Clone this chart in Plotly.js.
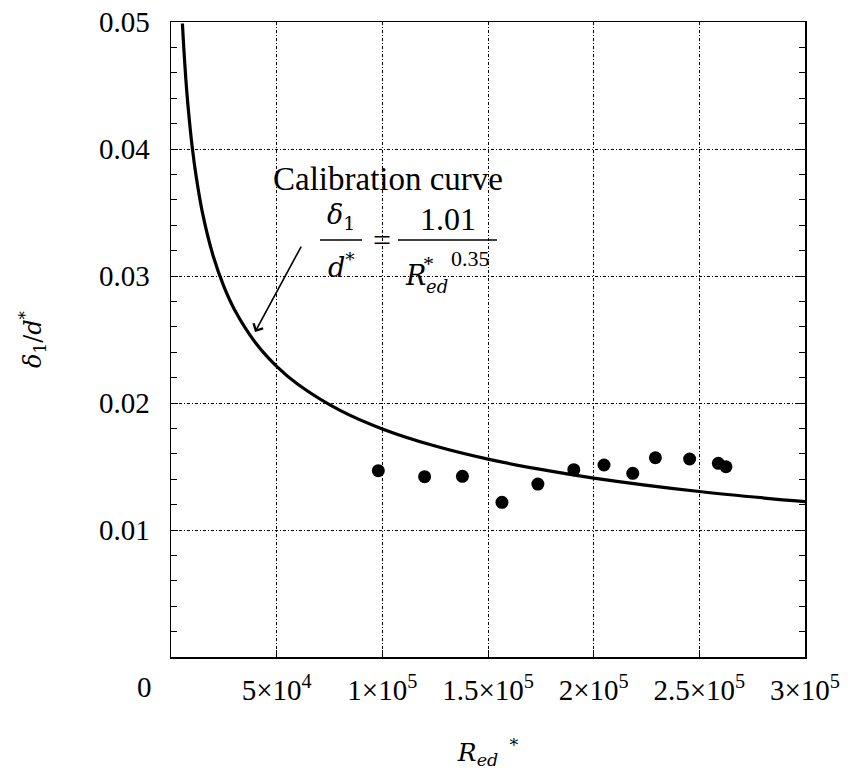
<!DOCTYPE html>
<html>
<head>
<meta charset="utf-8">
<script src="https://cdn.plot.ly/plotly-3.0.1.min.js"></script>
<style>
html,body{margin:0;padding:0;background:#fff;}
#chart{width:850px;height:781px;}
</style>
</head>
<body>
<div id="chart"></div>
<script>
// Measured data points
var measX = [98100, 120000, 137900, 156600, 173600, 190600, 204900, 218500, 229200, 245400, 259000, 262600];
var measY = [0.01467, 0.01420, 0.01423, 0.01218, 0.01362, 0.01475, 0.01512, 0.01446, 0.01569, 0.01559, 0.01525, 0.01498];

// Calibration curve points
var curveX = [5400, 6000, 7000, 8000, 10000, 12000, 15000, 20000, 25000, 30000, 40000, 50000, 60000, 80000, 100000, 125000, 150000, 175000, 200000, 250000, 300000];
var curveY = [0.04988, 0.04809, 0.04556, 0.04348, 0.04021, 0.03773, 0.03489, 0.03155, 0.02918, 0.02737, 0.02475, 0.02289, 0.02148, 0.01942, 0.01796, 0.01661, 0.01558, 0.01477, 0.01409, 0.01303, 0.01223];

// Tick labels
var xTickVals = [50000, 100000, 150000, 200000, 250000, 300000];
var xTickText = ['5\u00d710<sup>4</sup>', '1\u00d710<sup>5</sup>', '1.5\u00d710<sup>5</sup>', '2\u00d710<sup>5</sup>', '2.5\u00d710<sup>5</sup>', '3\u00d710<sup>5</sup>'];
var yTickVals = [0.01, 0.02, 0.03, 0.04, 0.05];
var yTickText = ['0.01', '0.02', '0.03', '0.04', '0.05'];

var fam = 'Liberation Serif';   // upright text
var famI = 'DejaVu Serif';      // italic (math) text

var traces = [
  {
    x: curveX, y: curveY, type: 'scatter', mode: 'lines',
    line: {color: '#000', width: 3.2, shape: 'spline'},
    name: 'Calibration curve', showlegend: false, hoverinfo: 'skip'
  },
  {
    x: measX, y: measY, type: 'scatter', mode: 'markers',
    marker: {color: '#000', size: 13, symbol: 'circle'},
    name: 'Measured', showlegend: false
  }
];

var gridDash = '3px,2px,1px,2px';

var layout = {
  width: 850, height: 781,
  margin: {l: 171, r: 45, t: 22, b: 124},
  paper_bgcolor: '#fff', plot_bgcolor: '#fff',
  font: {color: '#000'},
  xaxis: {
    range: [0, 300000], autorange: false,
    tickmode: 'array', tickvals: xTickVals, ticktext: xTickText,
    ticks: 'inside', ticklen: 7, tickcolor: '#000', tickwidth: 1,
    showline: true, linecolor: '#000', linewidth: 1.5, mirror: true,
    showgrid: true, gridcolor: '#000', gridwidth: 1, griddash: gridDash,
    zeroline: false,
    tickfont: {family: fam, size: 29, color: '#000'},
    ticklabelstandoff: 7,
    title: {text: '<i>R</i><sub><i>ed</i></sub><sup>  *</sup>', font: {family: famI, size: 25, color: '#000'}, standoff: 38}
  },
  yaxis: {
    range: [0, 0.05], autorange: false,
    tickmode: 'array', tickvals: yTickVals, ticktext: yTickText,
    ticks: 'inside', ticklen: 7, tickcolor: '#000', tickwidth: 1,
    minor: {dtick: 0.002, tick0: 0, ticks: 'inside', ticklen: 6, tickcolor: '#000', showgrid: false},
    showline: true, linecolor: '#000', linewidth: 1.5, mirror: 'ticks',
    showgrid: true, gridcolor: '#000', gridwidth: 1, griddash: gridDash,
    zeroline: false,
    tickfont: {family: fam, size: 29, color: '#000'},
    ticklabelstandoff: 14,
    title: {text: '<i>\u03b4</i><sub>1</sub>/<i>d</i><sup>*</sup>', font: {family: famI, size: 24, color: '#000'}, standoff: 50}
  },
  shapes: [
    {type: 'line', xref: 'x', yref: 'y', x0: 70505, x1: 90379, y0: 0.032835, y1: 0.032835, line: {color: '#000', width: 1.5}},
    {type: 'line', xref: 'x', yref: 'y', x0: 107413, x1: 154259, y0: 0.032835, y1: 0.032835, line: {color: '#000', width: 1.5}}
  ],
  annotations: [
    {text: '0', xref: 'paper', yref: 'paper', x: -0.027, y: -0.047, xanchor: 'right', yanchor: 'middle', showarrow: false, font: {family: fam, size: 29, color: '#000'}},
    {text: 'Calibration curve', xref: 'x', yref: 'y', x: 102700, y: 0.0376, xanchor: 'center', yanchor: 'middle', showarrow: false, font: {family: fam, size: 33, color: '#000'}},
    {text: '<i>\u03b4</i><sub>1</sub>', xref: 'x', yref: 'y', x: 80442, y: 0.03470, xanchor: 'center', yanchor: 'middle', showarrow: false, font: {family: famI, size: 27, color: '#000'}},
    {text: '<i>d</i><sup>*</sup>', xref: 'x', yref: 'y', x: 80442, y: 0.03079, xanchor: 'center', yanchor: 'middle', showarrow: false, font: {family: famI, size: 27, color: '#000'}},
    {text: '=', xref: 'x', yref: 'y', x: 99842, y: 0.03283, xanchor: 'center', yanchor: 'middle', showarrow: false, font: {family: fam, size: 32, color: '#000'}},
    {text: '1.01', xref: 'x', yref: 'y', x: 131073, y: 0.03449, xanchor: 'center', yanchor: 'middle', showarrow: false, font: {family: fam, size: 32, color: '#000'}},
    {text: '<i>R</i>', xref: 'x', yref: 'y', x: 115457, y: 0.03004, xanchor: 'center', yanchor: 'middle', showarrow: false, font: {family: famI, size: 27, color: '#000'}},
    {text: '*', xref: 'x', yref: 'y', x: 121800, y: 0.03100, xanchor: 'center', yanchor: 'middle', showarrow: false, font: {family: fam, size: 22, color: '#000'}},
    {text: '<i>ed</i>', xref: 'x', yref: 'y', x: 125800, y: 0.02920, xanchor: 'center', yanchor: 'middle', showarrow: false, font: {family: famI, size: 18, color: '#000'}},
    {text: '0.35', xref: 'x', yref: 'y', x: 141483, y: 0.03140, xanchor: 'center', yanchor: 'middle', showarrow: false, font: {family: fam, size: 22, color: '#000'}},
    {text: '', xref: 'x', yref: 'y', x: 39748, y: 0.02559, axref: 'x', ayref: 'y', ax: 61987, ay: 0.03244, showarrow: true, arrowhead: 4, arrowsize: 1.3, arrowwidth: 1.6, arrowcolor: '#000'}
  ],
  showlegend: false
};

Plotly.newPlot('chart', traces, layout, {displayModeBar: false, staticPlot: true});
</script>
</body>
</html>
